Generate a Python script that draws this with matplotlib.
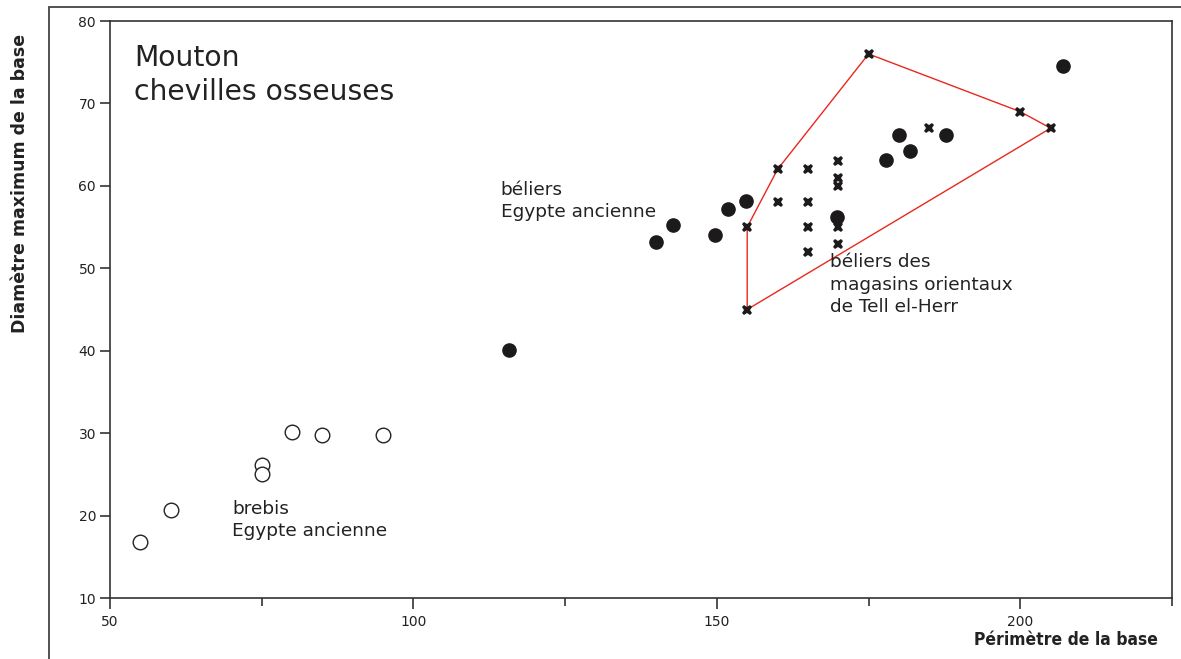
import numpy as np
import matplotlib.pyplot as plt
from matplotlib.patches import Rectangle
from matplotlib.ticker import MultipleLocator

# -----------------------
# Data
# -----------------------

# brebis, Egypte ancienne (open circles)
brebis_x = [55, 60, 75, 75, 80, 85, 95]
brebis_y = [16.8, 20.7, 26.1, 25.1, 30.1, 29.8, 29.8]

# beliers, Egypte ancienne (filled circles)
beliers_x = [115.7, 140, 142.8, 149.7, 151.8, 154.8, 169.8, 177.9, 180, 181.8, 187.7, 207]
beliers_y = [40.1, 53.2, 55.3, 54.0, 57.2, 58.2, 56.2, 63.1, 66.2, 64.2, 66.2, 74.5]

# beliers des magasins orientaux de Tell el-Herr (crosses)
herr_x = [175, 200, 205, 185, 160, 165, 170, 170, 170, 160, 165, 155, 165, 170, 170, 165, 155]
herr_y = [76, 69, 67, 67, 62, 62, 63, 61, 60, 58, 58, 55, 55, 55, 53, 52, 45]

# convex hull of the Tell el-Herr group
hull_x = [155, 155, 160, 175, 200, 205, 155]
hull_y = [45, 55, 62, 76, 69, 67, 45]

# -----------------------
# Figure
# -----------------------

W, H = 1181, 659
fig = plt.figure(figsize=(W/100, H/100), dpi=100)
ax = fig.add_axes([110/W, 1 - 598/H, (1172 - 110)/W, (598 - 21)/H])

# outer frame (cut by the image edges)
fig.patches.append(Rectangle((49/W, -0.2), 1.2, 1.2 - 7/H, transform=fig.transFigure,
                             fill=False, edgecolor="#444444", linewidth=1.3))

ax.plot(hull_x, hull_y, color="#e8281e", linewidth=1.0, zorder=2)
ax.plot(brebis_x, brebis_y, linestyle="none", marker="o", markersize=10.5,
        markerfacecolor="white", markeredgecolor="#222222", markeredgewidth=1.0, zorder=3)
ax.plot(beliers_x, beliers_y, linestyle="none", marker="o", markersize=9.5,
        color="#1c1a1a", zorder=3)
ax.plot(herr_x, herr_y, linestyle="none", marker="X", markersize=7.5,
        color="#1c1a1a", markeredgewidth=0, zorder=4)

ax.set_xlim(50, 225)
ax.set_ylim(10, 80)
ax.xaxis.set_major_locator(MultipleLocator(50))
ax.xaxis.set_minor_locator(MultipleLocator(25))
ax.yaxis.set_major_locator(MultipleLocator(10))

for s in ax.spines.values():
    s.set_linewidth(1.2)
    s.set_color("#333333")

ax.tick_params(axis="both", which="both", direction="out", color="#333333",
               width=1.2, labelsize=10, labelcolor="#222222")
ax.tick_params(axis="x", which="major", length=8, pad=4)
ax.tick_params(axis="x", which="minor", length=6)
ax.tick_params(axis="y", which="major", length=7, pad=3)

txt = dict(color="#222222", va="top", ha="left")
ax.text(54, 77.2, "Mouton\nchevilles osseuses", fontsize=20.3, linespacing=1.25, **txt)
ax.text(114.4, 60.6, "béliers\nEgypte ancienne", fontsize=13.3, linespacing=1.3, **txt)
ax.text(168.6, 51.8, "béliers des\nmagasins orientaux\nde Tell el-Herr", fontsize=13.3,
        linespacing=1.3, **txt)
ax.text(70.1, 21.9, "brebis\nEgypte ancienne", fontsize=13.3, linespacing=1.3, **txt)

fig.text(1158/W, 1 - 640/H, "Périmètre de la base", ha="right", va="center",
         fontsize=12.5, fontweight="bold", fontstretch="condensed", color="#222222")
fig.text(20/W, 1 - 183/H, "Diamètre maximum de la base", ha="center", va="center",
         rotation=90, fontsize=12.5, fontweight="bold", color="#222222")

fig.savefig("out.png", dpi=100)
